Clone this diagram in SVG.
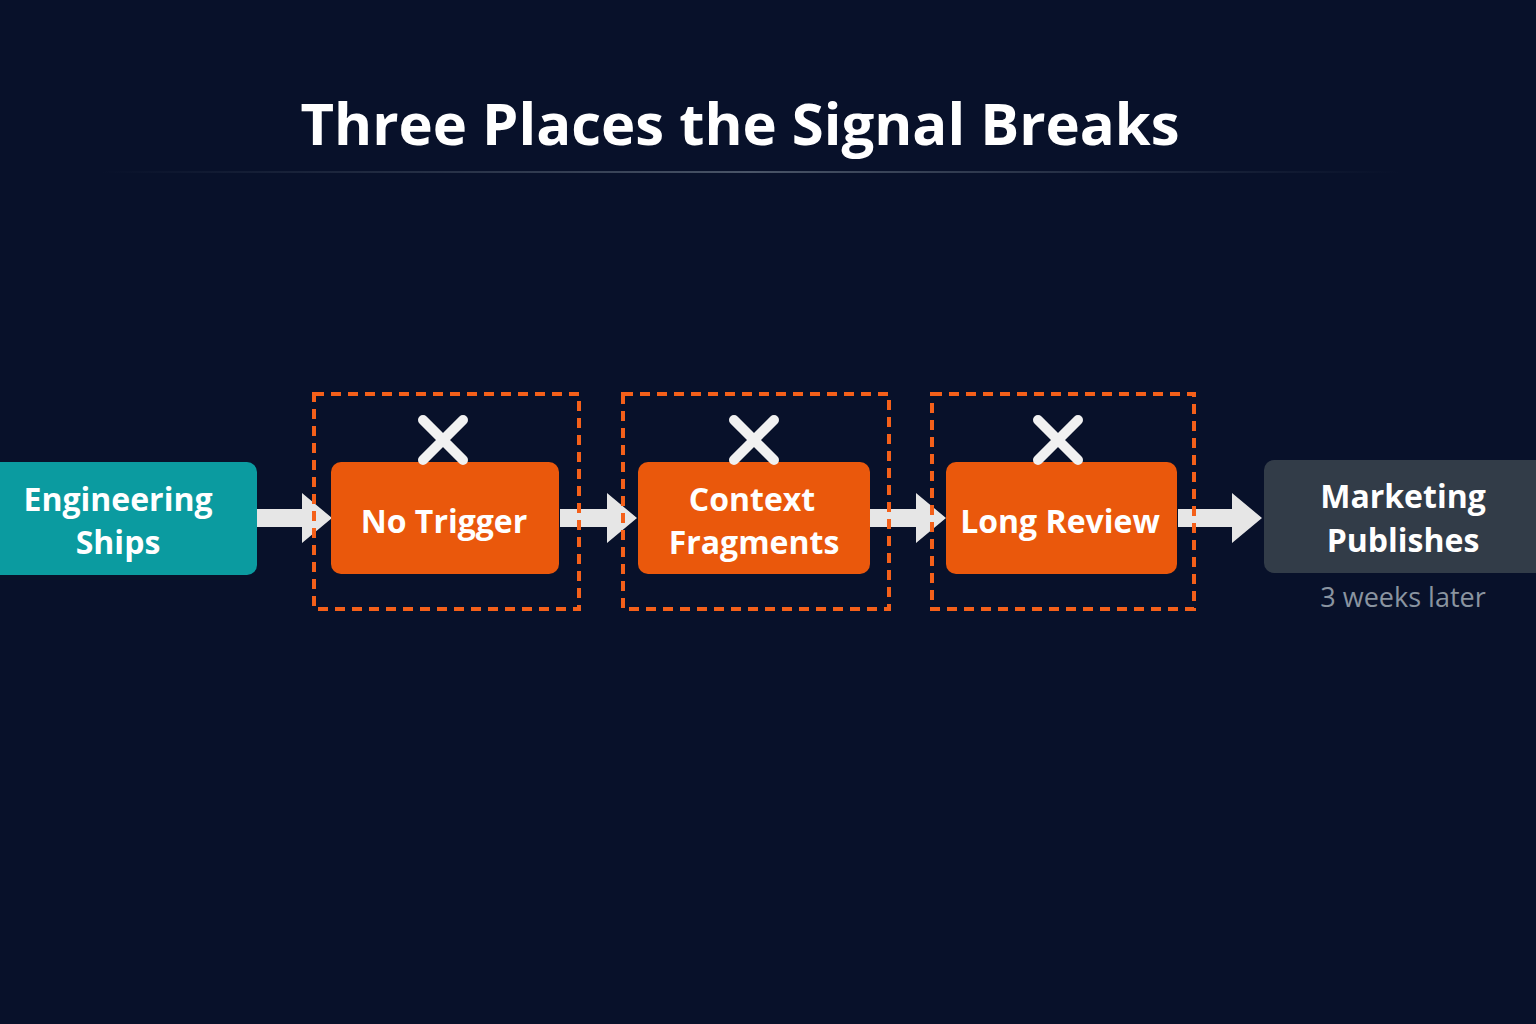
<svg xmlns="http://www.w3.org/2000/svg" width="1536" height="1024" viewBox="0 0 1536 1024">
<defs>
<style>
.t{font-family:"Open Sans","Noto Sans",sans-serif;font-weight:700;fill:#fff;text-anchor:middle}
.box{fill:#ea580c}
.dash{fill:none;stroke:#f4601a;stroke-width:4;stroke-dasharray:10 7}
.x{stroke:#f1f1f1;stroke-width:10;stroke-linecap:round}
.arr{fill:#e6e6e6}
</style>
<linearGradient id="ln" x1="0" x2="1"><stop offset="0" stop-color="#3a4558" stop-opacity="0"/><stop offset="0.5" stop-color="#4a5568"/><stop offset="1" stop-color="#3a4558" stop-opacity="0"/></linearGradient>
</defs>
<rect width="1536" height="1024" fill="#08112a"/>
<text class="t" x="740" y="145" font-size="58">Three Places the Signal Breaks</text>
<rect x="100" y="171" width="1300" height="2" fill="url(#ln)"/>
<g id="connectors">
<path class="arr" d="M257 509h45v-16l30 25-30 25v-16h-45z"/>
<path class="arr" d="M560 509h47v-16l30 25-30 25v-16h-47z"/>
<path class="arr" d="M870 509h46v-16l30 25-30 25v-16h-46z"/>
<path class="arr" d="M1178 509h54v-16l30 25-30 25v-16h-54z"/>
</g>
<g id="eng"><rect x="-12" y="462" width="269" height="113" rx="10" fill="#0b9ba0"/>
<text class="t" x="118" y="511" font-size="32">Engineering</text><text class="t" x="118" y="554" font-size="32">Ships</text></g>
<g id="b1"><rect class="dash" x="314" y="394" width="265" height="215"/>
<rect class="box" x="331" y="462" width="228" height="112" rx="10"/>
<path class="x" d="M423 420l40 40M463 420l-40 40"/>
<text class="t" x="444" y="533" font-size="32">No Trigger</text></g>
<g id="b2"><rect class="dash" x="623" y="394" width="266" height="215"/>
<rect class="box" x="638" y="462" width="232" height="112" rx="10"/>
<path class="x" d="M734 420l40 40M774 420l-40 40"/>
<text class="t" x="752" y="511" font-size="32">Context</text><text class="t" x="754" y="554" font-size="32">Fragments</text></g>
<g id="b3"><rect class="dash" x="932" y="394" width="262" height="215"/>
<rect class="box" x="946" y="462" width="231" height="112" rx="10"/>
<path class="x" d="M1038 420l40 40M1078 420l-40 40"/>
<text class="t" x="1060" y="533" font-size="32">Long Review</text></g>
<g id="mkt"><rect x="1264" y="460" width="285" height="113" rx="10" fill="#323c48"/>
<text class="t" x="1403" y="508" font-size="32">Marketing</text><text class="t" x="1403" y="552" font-size="32">Publishes</text>
<text x="1403" y="607" font-size="27" fill="#8a94a0" text-anchor="middle" font-family="Open Sans,sans-serif">3 weeks later</text></g>
</svg>
